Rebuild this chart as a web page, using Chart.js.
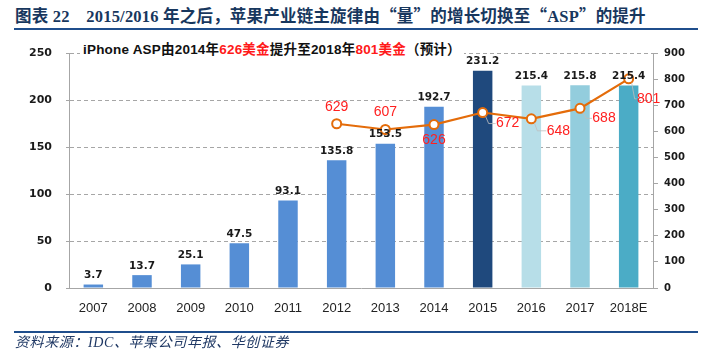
<!DOCTYPE html>
<html lang="zh-CN">
<head>
<meta charset="UTF-8">
<title>iPhone ASP</title>
<script src="https://cdn.jsdelivr.net/npm/chart.js"></script>
<style>
  body { margin: 0; background: #fff; }
  #wrap { position: relative; width: 710px; height: 352px; overflow: hidden; }
  #chart { position: absolute; left: 0; top: 0; }
  .titulo {
    position: absolute; left: 15px; top: 4px; white-space: nowrap;
    font-family: "Liberation Serif", "Noto Sans CJK SC", serif;
    font-weight: bold; font-size: 16.5px; letter-spacing: 0.2px; color: #17375E; line-height: 22px;
  }
  .titulo .q { font-family: "Noto Sans CJK SC", sans-serif; }
  .linha { position: absolute; left: 14px; width: 684px; height: 2px; background: #1F4E8C; }
  .fonte {
    position: absolute; left: 15px; top: 334px; white-space: nowrap;
    font-family: "Liberation Serif", "Noto Sans CJK SC", serif;
    font-style: italic; font-size: 14px; letter-spacing: 0.6px; color: #1F3864; line-height: 18px;
  }
  .sub {
    position: absolute; left: 80px; top: 41px; white-space: nowrap; background: #fff;
    padding: 0 3px; font-family: "Liberation Sans", "Noto Sans CJK SC", sans-serif;
    font-weight: bold; font-size: 13.5px; letter-spacing: 0.2px; color: #111; line-height: 18px; z-index: 2;
  }
  .sub .r { color: #FF1A1A; }
</style>
</head>
<body>
<div id="wrap">
  <div class="titulo">图表 22　2015/2016 年之后，苹果产业链主旋律由<span class="q">“</span>量<span class="q">”</span>的增长切换至<span class="q">“</span>ASP<span class="q">”</span>的提升</div>
  <div class="linha" style="top:28px"></div>
  <canvas id="chart" width="710" height="352"></canvas>
  <div class="sub">iPhone ASP由2014年<span class="r">626美金</span>提升至2018年<span class="r">801美金</span>（预计）</div>
  <div class="linha" style="top:331px"></div>
  <div class="fonte">资料来源：IDC、苹果公司年报、华创证券</div>
</div>

<script>
  // dados
  var anos = ['2007', '2008', '2009', '2010', '2011', '2012', '2013', '2014', '2015', '2016', '2017', '2018E'];
  var vendas = [3.7, 13.7, 25.1, 47.5, 93.1, 135.8, 153.5, 192.7, 231.2, 215.4, 215.8, 215.4];
  var asp = [null, null, null, null, null, 629, 607, 626, 672, 648, 688, 801];
  var ticksEsquerda = [0, 50, 100, 150, 200, 250];
  var ticksDireita = [0, 100, 200, 300, 400, 500, 600, 700, 800, 900];

  var coresBarras = ['#558ED5', '#558ED5', '#558ED5', '#558ED5', '#558ED5', '#558ED5',
    '#558ED5', '#558ED5', '#1F497D', '#B7DEE8', '#93CDDD', '#4BACC6'];

  // deslocamento dos rótulos da linha (dx, dy) e se tem linha guia
  var posRotulos = [null, null, null, null, null,
    [0, -17, false], [0, -17, false], [0, 16, false], [25, 11, true],
    [27, 12, true], [24, 10, true], [20, 20, true]];

  var rotulos = {
    id: 'rotulos',
    afterDatasetsDraw: function (chart) {
      var ctx = chart.ctx;
      ctx.save();
      // valores das barras
      var barras = chart.getDatasetMeta(0).data;
      ctx.font = 'bold 10.5px "DejaVu Sans", sans-serif';
      ctx.fillStyle = '#1a1a1a';
      ctx.textAlign = 'center';
      ctx.textBaseline = 'bottom';
      for (var i = 0; i < barras.length; i++) {
        ctx.fillText(vendas[i].toFixed(1), barras[i].x, barras[i].y - 4);
      }
      // valores da linha
      var pontos = chart.getDatasetMeta(1).data;
      ctx.font = '14px "Liberation Sans", sans-serif';
      ctx.textBaseline = 'middle';
      for (var j = 0; j < pontos.length; j++) {
        if (asp[j] === null) continue;
        var p = pontos[j];
        var d = posRotulos[j];
        if (d[2]) {
          ctx.strokeStyle = '#BFBFBF';
          ctx.lineWidth = 0.8;
          ctx.beginPath();
          ctx.moveTo(p.x + 3, p.y + 4);
          ctx.lineTo(p.x + 6, p.y + d[1]);
          ctx.lineTo(p.x + d[0] - 12, p.y + d[1]);
          ctx.stroke();
        }
        ctx.fillStyle = '#FF2020';
        ctx.fillText(String(asp[j]), p.x + d[0], p.y + d[1]);
      }
      ctx.restore();
    }
  };

  new Chart(document.getElementById('chart'), {
    data: {
      labels: anos,
      datasets: [{
        type: 'bar',
        data: vendas,
        backgroundColor: coresBarras,
        barPercentage: 0.4,
        categoryPercentage: 1,
        yAxisID: 'y',
        order: 2
      }, {
        type: 'line',
        data: asp,
        borderColor: '#E46C0A',
        borderWidth: 2.2,
        pointRadius: 4.5,
        pointBorderWidth: 2,
        pointBackgroundColor: '#fff',
        pointBorderColor: '#E46C0A',
        spanGaps: false,
        tension: 0,
        yAxisID: 'y1',
        order: 1
      }]
    },
    options: {
      responsive: false,
      animation: false,
      layout: { padding: { top: 53, left: 0, right: 0, bottom: 0 } },
      plugins: { legend: { display: false }, tooltip: { enabled: false } },
      scales: {
        x: {
          grid: { display: false, drawTicks: false },
          border: { color: '#A6A6A6', width: 1 },
          ticks: { color: '#222', padding: 13, font: { family: '"Liberation Sans", sans-serif', size: 13 } },
          afterFit: function (s) { s.height = 64; }
        },
        y: {
          position: 'left',
          min: 0, max: 250,
          afterBuildTicks: function (s) { s.ticks = ticksEsquerda.map(function (v) { return { value: v }; }); },
          grid: {
            color: function (c) { return c.tick.value === 0 ? 'rgba(0,0,0,0)' : '#A6A6A6'; },
            tickLength: 3, tickColor: '#A6A6A6'
          },
          border: { color: '#A6A6A6', dash: [4, 3], width: 1 },
          ticks: { color: '#1a1a1a', padding: 14, font: { family: '"DejaVu Sans", sans-serif', size: 11, weight: 'bold' } },
          afterFit: function (s) { s.width = 69; }
        },
        y1: {
          position: 'right',
          min: 0, max: 900,
          afterBuildTicks: function (s) { s.ticks = ticksDireita.map(function (v) { return { value: v }; }); },
          grid: { drawOnChartArea: false, tickLength: 5, tickColor: '#A6A6A6' },
          border: { color: '#A6A6A6', width: 1 },
          ticks: { color: '#1a1a1a', padding: 6, font: { family: '"DejaVu Sans", sans-serif', size: 10, weight: 'bold' } },
          afterFit: function (s) { s.width = 57; }
        }
      }
    },
    plugins: [rotulos]
  });
</script>
</body>
</html>
